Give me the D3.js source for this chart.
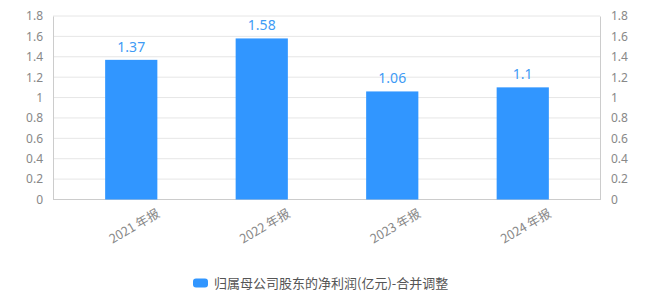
<!DOCTYPE html>
<html><head><meta charset="utf-8">
<script src="https://cdn.jsdelivr.net/npm/d3@7/dist/d3.min.js"></script>
<style>body{margin:0;background:#fff}svg{display:block;font-family:"Noto Sans CJK SC","Noto Sans",sans-serif}</style>
</head><body><svg id="c" width="660" height="303"></svg>
<script>
const categories = ["2021 年报", "2022 年报", "2023 年报", "2024 年报"];
const values = [1.37, 1.58, 1.06, 1.1];
const valueLabels = ["1.37", "1.58", "1.06", "1.1"];
const yTicks = [0, 0.2, 0.4, 0.6, 0.8, 1, 1.2, 1.4, 1.6, 1.8];
const seriesName = "归属母公司股东的净利润(亿元)-合并调整";

const svg = d3.select("#c");
const L = 53, R = 600, T = 16, B = 199.5;
const x = d3.scaleBand().domain(categories).range([66, 588]).paddingInner(0.6).paddingOuter(0.3);
const y = d3.scaleLinear().domain([0, 1.8]).range([B, T]);
const barColor = "#3196FF";

// grid
svg.append("g").selectAll("line").data(yTicks.filter(d => d > 0)).join("line")
  .attr("x1", L).attr("x2", R).attr("y1", d => y(d)).attr("y2", d => y(d))
  .attr("stroke", "#e6e6e6").attr("stroke-width", 1);

// axes
const fmt = d => d3.format("~g")(d);
const la = svg.append("g").attr("transform", `translate(${L},0)`)
  .call(d3.axisLeft(y).tickValues(yTicks).tickFormat(fmt).tickSize(0).tickPadding(10));
const ra = svg.append("g").attr("transform", `translate(${R},0)`)
  .call(d3.axisRight(y).tickValues(yTicks).tickFormat(fmt).tickSize(0).tickPadding(11));
[la, ra].forEach(a => {
  a.select(".domain").attr("stroke", "#cccccc");
  a.selectAll("text").attr("fill", "#888").attr("font-size", 12).attr("font-family", "'Noto Sans','Noto Sans CJK SC',sans-serif");
});
svg.append("line").attr("x1", L).attr("x2", R).attr("y1", B).attr("y2", B).attr("stroke", "#cccccc");

// bars
svg.append("g").selectAll("rect").data(values).join("rect")
  .attr("x", (d, i) => x(categories[i])).attr("width", x.bandwidth())
  .attr("y", d => y(d)).attr("height", d => B - y(d)).attr("fill", barColor);

// value labels
svg.append("g").selectAll("text").data(values).join("text")
  .attr("x", (d, i) => x(categories[i]) + x.bandwidth() / 2).attr("y", d => y(d) - 8)
  .attr("text-anchor", "middle").attr("fill", "#3E9BF5").attr("font-size", 14)
  .attr("font-family", "'Noto Sans','Noto Sans CJK SC',sans-serif")
  .text((d, i) => valueLabels[i]);

// x labels
svg.append("g").selectAll("text").data(categories).join("text")
  .attr("transform", d => `translate(${x(d) + x.bandwidth() / 2 + 3},${226}) rotate(-30)`)
  .attr("text-anchor", "middle").attr("dy", "0.35em")
  .attr("fill", "#888").attr("font-size", 12.5).text(d => d);

// legend
const lg = svg.append("g");
lg.append("rect").attr("x", 193).attr("y", 278.5).attr("width", 15).attr("height", 9).attr("rx", 3).attr("fill", barColor);
lg.append("text").attr("x", 214).attr("y", 283).attr("dy", "0.35em").attr("fill", "#555").attr("font-size", 13).text(seriesName);
</script></body></html>
